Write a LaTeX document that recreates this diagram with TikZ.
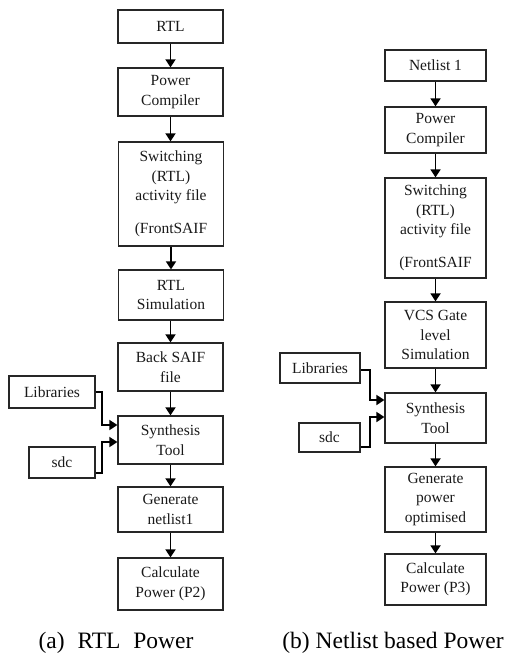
\documentclass[tikz,border=0pt]{standalone}
\usepackage{fontspec}
\setmainfont{Liberation Serif}
\usetikzlibrary{arrows.meta}
\begin{document}
\begin{tikzpicture}[x=1pt,y=-1pt,
  box/.style={draw=black!85,line width=1.3pt,inner sep=0pt,align=center,
    font=\fontsize{15.5}{19.5}\selectfont,text=black!90},
  arr/.style={line width=1.8pt,-{Triangle[length=8pt,width=10pt]}},
  captext/.style={font=\fontsize{23.5}{26}\selectfont,inner sep=0pt}]
\useasboundingbox (0,0) rectangle (504,660);
% left column
\node[box,minimum width=105pt,minimum height=33pt] (rtl) at (170.5,26.5) {RTL};
\node[box,minimum width=105pt,minimum height=48pt] (pc1) at (170.5,92) {Power\\Compiler};
\node[box,minimum width=105pt,minimum height=104pt] (sw1) at (171,194) {Switching\\(RTL)\\activity file\\[13pt](FrontSAIF};
\node[box,minimum width=105pt,minimum height=50pt] (sim1) at (171,295) {RTL\\Simulation};
\node[box,minimum width=105pt,minimum height=48pt] (back) at (170.5,367) {Back SAIF\\file};
\node[box,minimum width=105pt,minimum height=48pt] (syn1) at (170.5,440) {Synthesis\\Tool};
\node[box,minimum width=105pt,minimum height=45pt] (gen1) at (170.5,509.5) {Generate\\netlist1};
\node[box,minimum width=105pt,minimum height=52pt] (calc1) at (170.5,584) {Calculate\\Power (P2)};
\node[box,minimum width=86pt,minimum height=32pt] (lib1) at (52,392) {Libraries};
\node[box,minimum width=66pt,minimum height=31pt] (sdc1) at (62,462.5) {sdc};
\draw[arr] (rtl) -- (pc1);
\draw[arr] (pc1) -- (pc1|-sw1.north);
\draw[arr] (sw1) -- (sim1);
\draw[arr] (sim1.south-|back) -- (back);
\draw[arr] (back) -- (syn1);
\draw[arr] (syn1) -- (gen1);
\draw[arr] (gen1) -- (calc1);
\draw[arr] (lib1.east) -- (102,392) |- (syn1.west|-{(0,425)});
\draw[arr] (sdc1.east|-{(0,473)}) -- (102,473) |- (syn1.west|-{(0,442)});
% right column
\node[box,minimum width=101pt,minimum height=31pt] (n1) at (435.5,65.5) {Netlist 1};
\node[box,minimum width=101pt,minimum height=46pt] (pc2) at (435.5,130) {Power\\Compiler};
\node[box,minimum width=101pt,minimum height=100pt] (sw2) at (435.5,228) {Switching\\(RTL)\\activity file\\[13pt](FrontSAIF};
\node[box,minimum width=101pt,minimum height=66pt] (vcs) at (435.5,335) {VCS Gate\\level\\Simulation};
\node[box,minimum width=101pt,minimum height=50pt] (syn2) at (435.5,418) {Synthesis\\Tool};
\node[box,minimum width=101pt,minimum height=65pt] (gen2) at (435.5,499.5) {Generate\\power\\optimised};
\node[box,minimum width=101pt,minimum height=51pt] (calc2) at (435.5,579.5) {Calculate\\Power (P3)};
\node[box,minimum width=80pt,minimum height=30pt] (lib2) at (320,368) {Libraries};
\node[box,minimum width=61pt,minimum height=29pt] (sdc2) at (329.5,437.5) {sdc};
\draw[arr] (n1) -- (pc2);
\draw[arr] (pc2) -- (sw2);
\draw[arr] (sw2) -- (vcs);
\draw[arr] (vcs) -- (syn2);
\draw[arr] (syn2) -- (gen2);
\draw[arr] (gen2) -- (calc2);
\draw[arr] (lib2.east|-{(0,370)}) -- (370,370) |- (syn2.west|-{(0,400)});
\draw[arr] (sdc2.east|-{(0,447)}) -- (370,447) |- (syn2.west|-{(0,417)});
% captions
\node[captext] (capa) at (116,643) {(a)\hspace{0.55em}RTL\hspace{0.55em}Power};
\node[captext] (capb) at (393,643) {(b) Netlist based Power};
\end{tikzpicture}
\end{document}
